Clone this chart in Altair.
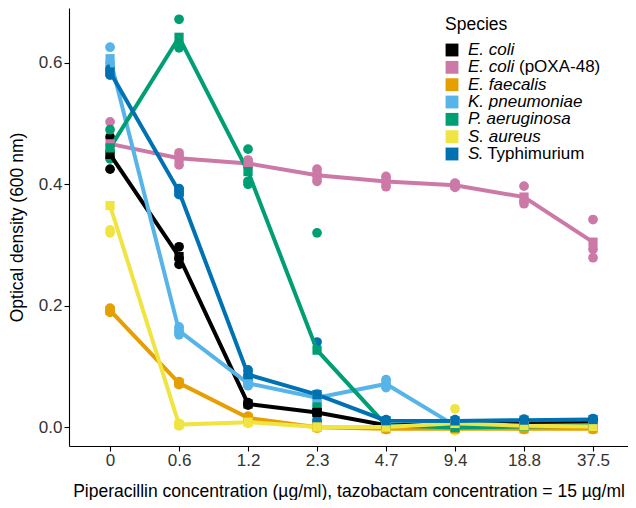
import altair as alt
import pandas as pd

concentrations = ["0", "0.6", "1.2", "2.3", "4.7", "9.4", "18.8", "37.5"]
species = ["E. coli", "E. coli (pOXA-48)", "E. faecalis", "K. pneumoniae",
           "P. aeruginosa", "S. aureus", "S. Typhimurium"]
colors = ["#000000", "#CC79A7", "#E69F00", "#56B4E9", "#009E73", "#F0E442", "#0072B2"]
legend_italic = ["E. coli", "E. coli", "E. faecalis", "K. pneumoniae", "P. aeruginosa", "S. aureus", "S"]
legend_plain = ["", "(pOXA-48)", "", "", "", "", ". Typhimurium"]

# replicate optical densities (3 per concentration), in concentration order
ecoli = [[0.478, 0.445, 0.425], [0.297, 0.278, 0.268], [0.040, 0.038, 0.036], [0.028, 0.024, 0.020],
         [0.004, 0.003, 0.002], [0.006, 0.005, 0.004], [0.007, 0.006, 0.005], [0.008, 0.007, 0.006]]
ecoli_poxa = [[0.503, 0.450, 0.447], [0.452, 0.445, 0.432], [0.440, 0.435, 0.428], [0.425, 0.415, 0.405],
              [0.413, 0.405, 0.396], [0.402, 0.398, 0.395], [0.397, 0.372, 0.368], [0.342, 0.293, 0.279]]
efaecalis = [[0.196, 0.192, 0.189], [0.075, 0.072, 0.070], [0.018, 0.015, 0.012], [0.001, 0.000, -0.002],
             [-0.002, -0.003, -0.004], [-0.002, -0.003, -0.004], [-0.002, -0.003, -0.004], [-0.002, -0.003, -0.004]]
kpneumoniae = [[0.626, 0.600, 0.595], [0.165, 0.158, 0.152], [0.076, 0.072, 0.068], [0.055, 0.050, 0.040],
               [0.078, 0.070, 0.065], [0.004, 0.002, 0.001], [0.003, 0.002, 0.000], [0.004, 0.003, 0.002]]
paeruginosa = [[0.490, 0.448, 0.442], [0.672, 0.630, 0.625], [0.458, 0.405, 0.400], [0.320, 0.035, 0.025],
               [0.004, 0.003, 0.002], [0.000, -0.001, -0.002], [0.002, 0.001, 0.000], [0.003, 0.002, 0.001]]
saureus = [[0.450, 0.325, 0.320], [0.006, 0.004, 0.002], [0.010, 0.008, 0.006], [0.001, 0.000, -0.001],
           [0.001, 0.000, -0.001], [0.030, -0.006, -0.006], [0.003, 0.002, 0.001], [0.002, 0.001, 0.000]]
styphimurium = [[0.590, 0.585, 0.580], [0.393, 0.388, 0.383], [0.094, 0.085, 0.080], [0.140, 0.012, 0.008],
                [0.012, 0.010, 0.009], [0.012, 0.010, 0.008], [0.013, 0.011, 0.010], [0.014, 0.012, 0.011]]

series = [ecoli, ecoli_poxa, efaecalis, kpneumoniae, paeruginosa, saureus, styphimurium]

rows = []
for sp, reps in zip(species, series):
    for conc, vals in zip(concentrations, reps):
        for v in vals:
            rows.append({"species": sp, "conc": conc, "od": v})
df = pd.DataFrame(rows)

legend_df = pd.DataFrame({"species": species, "rank": list(range(len(species))),
                          "italic": legend_italic, "plain": legend_plain})

FONT = "Liberation Sans"
color_scale = alt.Scale(domain=species, range=colors)
x_enc = alt.X("conc:O", sort=concentrations,
              scale=alt.Scale(type="point", padding=0.551, align=0.54),
              axis=alt.Axis(title="Piperacillin concentration (µg/ml), tazobactam concentration = 15 µg/ml",
                            labelAngle=0, labelPadding=1, titleY=50, titleBaseline="alphabetic"))
y_scale = alt.Scale(domain=[-0.0313, 0.6906], nice=False, zero=False)
y_axis = alt.Axis(title="Optical density (600 nm)", values=[0, 0.2, 0.4, 0.6], format=".1f",
                  grid=False, titleX=-52, titleBaseline="middle")

points = alt.Chart(df).mark_circle(size=95, opacity=1).encode(
    x=x_enc, y=alt.Y("od:Q", scale=y_scale, axis=y_axis),
    color=alt.Color("species:N", scale=color_scale, legend=None))
lines = alt.Chart(df).mark_line(strokeWidth=4).encode(
    x=x_enc, y=alt.Y("mean(od):Q", scale=y_scale, axis=y_axis),
    color=alt.Color("species:N", scale=color_scale, legend=None))
means = alt.Chart(df).mark_square(size=85, opacity=1).encode(
    x=x_enc, y=alt.Y("mean(od):Q", scale=y_scale, axis=y_axis),
    color=alt.Color("species:N", scale=color_scale, legend=None))

main = alt.layer(points, lines, means)

leg_y = alt.Y("rank:Q", scale=alt.Scale(domain=[0, 6], range=[42, 146]), axis=None)
leg_sq = alt.Chart(legend_df).mark_square(size=165, opacity=1).encode(
    x=alt.value(383), y=leg_y, color=alt.Color("species:N", scale=color_scale, legend=None))
leg_it = alt.Chart(legend_df).mark_text(align="left", baseline="middle", fontStyle="italic",
                                         fontSize=17, font=FONT, color="black").encode(
    x=alt.value(399), y=leg_y, text="italic:N")
leg_p1 = alt.Chart(legend_df).transform_filter(alt.datum.plain == "(pOXA-48)").mark_text(
    align="left", baseline="middle", fontSize=17, font=FONT, color="black").encode(
    x=alt.value(450), y=leg_y, text="plain:N")
leg_p2 = alt.Chart(legend_df).transform_filter(alt.datum.plain == ". Typhimurium").mark_text(
    align="left", baseline="middle", fontSize=17, font=FONT, color="black").encode(
    x=alt.value(409), y=leg_y, text="plain:N")
leg_title = alt.Chart(pd.DataFrame({"t": ["Species"]})).mark_text(
    align="left", baseline="middle", fontSize=17.5, font=FONT, color="black").encode(
    x=alt.value(376), y=alt.value(17), text="t:N")

legend = alt.layer(leg_sq, leg_it, leg_p1, leg_p2, leg_title)

chart = alt.layer(main, legend).resolve_scale(y="independent").properties(
    width=559, height=438,
    autosize=alt.AutoSizeParams(type="none"),
    padding={"left": 61, "top": 0, "right": 0, "bottom": 54},
).configure_view(stroke=None).configure_axis(
    domainColor="black", domainWidth=1.1, tickColor="black", tickWidth=1.1, tickSize=5,
    labelFont=FONT, titleFont=FONT, labelFontSize=17, titleFontSize=17.5,
    labelColor="#333333", titleColor="black", titleFontWeight="normal",
)

chart.save("out.html", embed_options={"renderer": "svg", "actions": False})
